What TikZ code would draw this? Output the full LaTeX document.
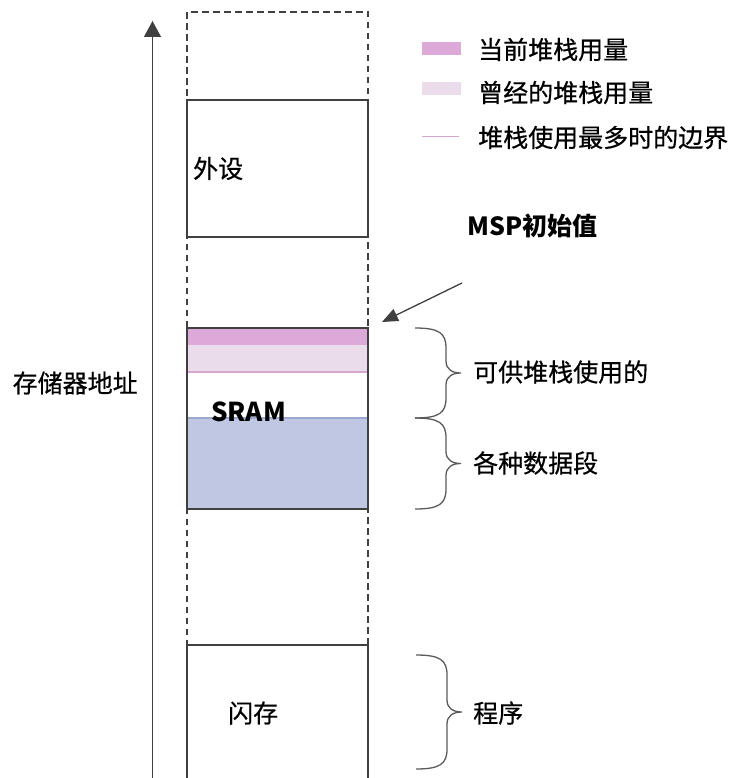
\documentclass[tikz,border=0pt]{standalone}
\usepackage{fontspec}
\setmainfont{Noto Sans CJK SC}
\newfontfamily\labelfont[FakeBold=0.6]{Noto Sans CJK SC}
\usetikzlibrary{arrows.meta,positioning,calc}
\definecolor{edge}{HTML}{404040}
\definecolor{bracegrey}{HTML}{5A5A5A}
\definecolor{stacknow}{HTML}{DDA9D9}
\definecolor{stackpast}{HTML}{EBDCEB}
\definecolor{stackline}{HTML}{D6A6CF}
\definecolor{datablue}{HTML}{BFC7E3}
\definecolor{dataline}{HTML}{9CA7D2}
\tikzset{
  membox/.style={draw=edge, line width=1.2pt, anchor=north west, minimum width=181pt,
                 inner sep=0pt, outer sep=0pt},
  band/.style={anchor=north west, minimum width=181pt, inner sep=0pt, outer sep=0pt},
  memline/.style={edge, line width=1.2pt},
  dashline/.style={edge, line width=1.1pt, dash pattern=on 6.5pt off 4.5pt},
  axis/.style={-{Triangle[length=16pt,width=17pt]}, edge, line width=1.3pt},
  ptr/.style={-{Triangle[length=16pt,width=13pt]}, edge, line width=1.3pt},
  curly/.style={bracegrey, line width=1.3pt},
  keybox/.style={minimum width=39pt, minimum height=13pt, inner sep=0pt},
  lbl/.style={font=\labelfont\fontsize{25}{30}\selectfont, anchor=west, inner sep=0pt},
  bold/.style={font=\fontsize{25}{30}\selectfont\bfseries, anchor=west, inner sep=0pt},
}
% curly brace from #1 (top) to #2 (bottom), opening to the left
\newcommand{\membrace}[2]{%
  \draw[curly] (#1) .. controls ($(#1)+(24,0)$) and ($(#1)+(31,5)$) .. ($(#1)+(31,20)$)
    -- ($(#1)!.5!(#2)+(31,-12)$)
    .. controls ($(#1)!.5!(#2)+(31,-3)$) and ($(#1)!.5!(#2)+(38,0)$) .. ($(#1)!.5!(#2)+(46,0)$)
    .. controls ($(#1)!.5!(#2)+(38,0)$) and ($(#1)!.5!(#2)+(31,3)$) .. ($(#1)!.5!(#2)+(31,12)$)
    -- ($(#2)+(31,-20)$)
    .. controls ($(#2)+(31,-5)$) and ($(#2)+(24,0)$) .. (#2);}

\begin{document}
\begin{tikzpicture}[x=1pt,y=-1pt]
  \useasboundingbox (0,0) rectangle (735,778);

  % address axis
  \coordinate (axisfoot) at (152.5,778);
  \coordinate (axishead) at (152.5,21);
  \draw[axis] (axisfoot) -- (axishead);
  \node[lbl] (addr) at (12.5,383) {存储器地址};

  % address space column
  \draw[dashline] (187,778) -- (187,12) -- (368,12) -- (368,778);

  % peripherals
  \node[membox, fill=white, minimum height=137pt] (periph) at (187,100) {};
  \node[lbl] (periphtxt) at (193,168.5) {外设};

  % SRAM with stack bands
  \node[band, fill=white, minimum height=181pt] (sramfill) at (187,328) {};
  \node[band, fill=stacknow, minimum height=17pt] (stacknow) at (187,328) {};
  \node[band, fill=stackpast, minimum height=27pt] (stackpast) at (187,345) {};
  \node[band, fill=datablue, minimum height=91pt] (data) at (187,418) {};
  \draw[stackline, line width=1.2pt] (stackpast.south west) -- (stackpast.south east);
  \draw[dataline, line width=1.2pt] (data.north west) -- (data.north east);
  \node[membox, minimum height=181pt] (sram) at (187,328) {};
  \node[bold, font=\fontsize{26}{30}\selectfont\bfseries] (sramtxt) at (211,412) {SRAM};

  % flash
  \fill[white] (187,645) rectangle (368,778);
  \draw[memline] (187,778) |- (368,645) -- (368,778);
  \node[lbl] (flashtxt) at (228,713) {闪存};

  % MSP initial value
  \node[bold] (msp) at (467,226) {MSP初始值};
  \coordinate (mspfrom) at (462,283);
  \coordinate (mspto) at (382,322);
  \draw[ptr] (mspfrom) -- (mspto);

  % braces
  \coordinate (stacktop) at (415,328);
  \coordinate (stackbot) at (415,418);
  \coordinate (databot) at (415,509);
  \coordinate (progtop) at (416,655);
  \coordinate (progbot) at (416,769);
  \membrace{stacktop}{stackbot}
  \membrace{stackbot}{databot}
  \membrace{progtop}{progbot}
  \node[lbl] (stacktxt) at (473,372) {可供堆栈使用的};
  \node[lbl] (datatxt) at (473,463) {各种数据段};
  \node[lbl] (progtxt) at (473,713) {程序};

  % legend
  \node[keybox, fill=stacknow] (keynow) at (441.5,48.5) {};
  \node[keybox, fill=stackpast] (keypast) at (441.5,88.5) {};
  \coordinate (keylinel) at (422,137);
  \coordinate (keyliner) at (459,137);
  \draw[stackline, line width=1pt] (keylinel) -- (keyliner);
  \node[lbl] (keynowtxt) at (478,49.5) {当前堆栈用量};
  \node[lbl] (keypasttxt) at (478,92.5) {曾经的堆栈用量};
  \node[lbl] (keylinetxt) at (478,137.5) {堆栈使用最多时的边界};
\end{tikzpicture}
\end{document}
